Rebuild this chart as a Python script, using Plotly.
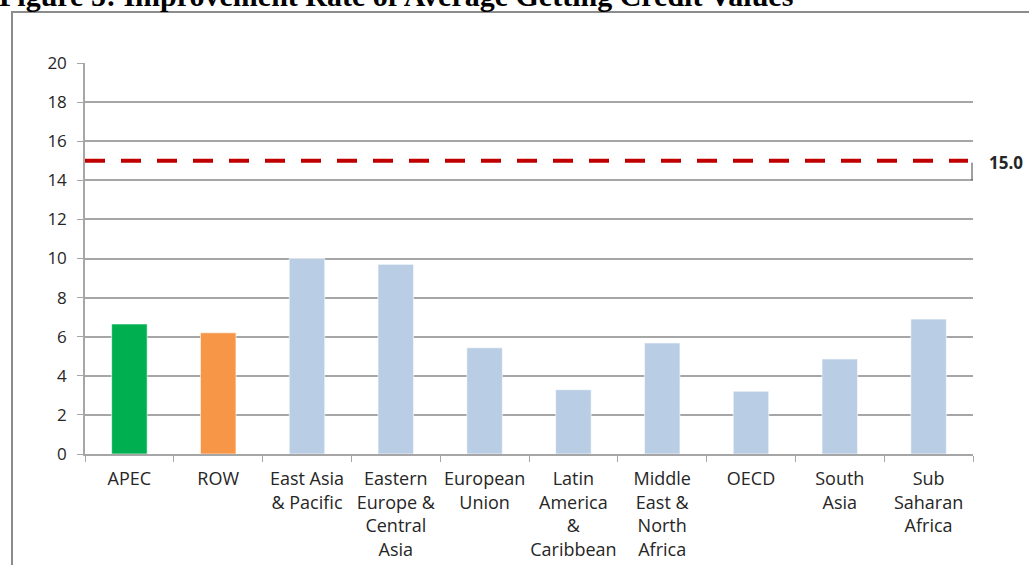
import plotly.graph_objects as go

categories = ["APEC", "ROW", "East Asia<br>& Pacific", "Eastern<br>Europe &<br>Central<br>Asia",
              "European<br>Union", "Latin<br>America<br>&<br>Caribbean", "Middle<br>East &<br>North<br>Africa",
              "OECD", "South<br>Asia", "Sub<br>Saharan<br>Africa"]
values = [6.65, 6.2, 10.0, 9.7, 5.43, 3.29, 5.68, 3.21, 4.86, 6.9]
colors = ["#00B050", "#F79646"] + ["#B9CDE5"] * 8
target = 15.0
y_ticks = [0, 2, 4, 6, 8, 10, 12, 14, 16, 18, 20]

W, H = 1029, 565
L, R, T, B = 85, 56, 63, 111
pw, ph = W - L - R, H - T - B

def px(x):
    return (x - L) / pw

def py(y):
    return (H - B - y) / ph

fig = go.Figure()
fig.add_trace(go.Bar(x=categories, y=values, marker=dict(color=colors, line=dict(color="rgba(255,255,255,0.6)", width=1)),
                     width=0.4, showlegend=False))

fig.add_shape(type="line", xref="paper", yref="y", x0=0, x1=px(968), y0=target, y1=target,
              line=dict(color="#C00000", width=4, dash="20px,16px"))
fig.add_shape(type="line", xref="paper", yref="y", x0=px(972), x1=px(972), y0=14, y1=target - 0.1,
              line=dict(color="#404040", width=1))
fig.add_annotation(xref="paper", yref="y", x=px(987), y=target, yshift=-2, text="<b>%.1f</b>" % target,
                   showarrow=False, xanchor="left", yanchor="middle",
                   font=dict(family="Open Sans, sans-serif", size=17, color="#262626"))

# frame
fig.add_shape(type="rect", xref="paper", yref="paper", x0=px(12), x1=px(1100), y0=py(12), y1=py(620),
              line=dict(color="#8C8C8C", width=2), layer="below")

fig.add_annotation(xref="paper", yref="paper", x=px(-3), y=py(14), text="<b>Figure 5: Improvement Rate of Average Getting Credit Values</b>",
                   showarrow=False, xanchor="left", yanchor="bottom",
                   font=dict(family="Liberation Serif, Times New Roman, serif", size=30, color="black"))

fig.update_layout(
    width=W, height=H,
    margin=dict(l=L, r=R, t=T, b=B, autoexpand=False),
    plot_bgcolor="white", paper_bgcolor="white",
    bargap=0.6,
    font=dict(family="Open Sans, sans-serif", size=17, color="#262626"),
    xaxis=dict(showgrid=False, showline=True, linecolor="#A6A6A6", linewidth=1.5,
               ticks="outside", tickson="boundaries", ticklen=6, tickcolor="#A6A6A6",
               tickfont=dict(size=18), tickangle=0, automargin=False, ticklabelstandoff=8, fixedrange=True),
    yaxis=dict(range=[0, 20], tickvals=y_ticks, showgrid=True, gridcolor="#A6A6A6", gridwidth=1.5,
               showline=True, linecolor="#A6A6A6", linewidth=1.5, ticks="outside", ticklen=6,
               tickcolor="#A6A6A6", zeroline=False, tickfont=dict(size=17), automargin=False, ticklabelstandoff=7),
)

fig.write_html("out.html", config={"displayModeBar": False},
               post_script="document.body.style.margin='0';document.body.style.padding='0';document.body.style.overflow='hidden';")
